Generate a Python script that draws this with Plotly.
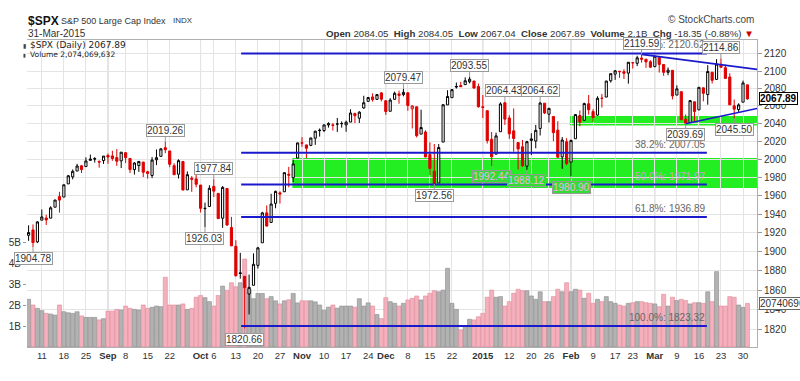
import math
import plotly.graph_objects as go

# ---------------- DATA ----------------
dates = ["2014-08-06","2014-08-07","2014-08-08","2014-08-11","2014-08-12","2014-08-13","2014-08-14","2014-08-15",
"2014-08-18","2014-08-19","2014-08-20","2014-08-21","2014-08-22","2014-08-25","2014-08-26","2014-08-27","2014-08-28","2014-08-29",
"2014-09-02","2014-09-03","2014-09-04","2014-09-05","2014-09-08","2014-09-09","2014-09-10","2014-09-11","2014-09-12",
"2014-09-15","2014-09-16","2014-09-17","2014-09-18","2014-09-19","2014-09-22","2014-09-23","2014-09-24","2014-09-25","2014-09-26",
"2014-09-29","2014-09-30","2014-10-01","2014-10-02","2014-10-03","2014-10-06","2014-10-07","2014-10-08","2014-10-09","2014-10-10",
"2014-10-13","2014-10-14","2014-10-15","2014-10-16","2014-10-17","2014-10-20","2014-10-21","2014-10-22","2014-10-23","2014-10-24",
"2014-10-27","2014-10-28","2014-10-29","2014-10-30","2014-10-31","2014-11-03","2014-11-04","2014-11-05","2014-11-06","2014-11-07",
"2014-11-10","2014-11-11","2014-11-12","2014-11-13","2014-11-14","2014-11-17","2014-11-18","2014-11-19","2014-11-20","2014-11-21",
"2014-11-24","2014-11-25","2014-11-26","2014-11-28","2014-12-01","2014-12-02","2014-12-03","2014-12-04","2014-12-05",
"2014-12-08","2014-12-09","2014-12-10","2014-12-11","2014-12-12","2014-12-15","2014-12-16","2014-12-17","2014-12-18","2014-12-19",
"2014-12-22","2014-12-23","2014-12-24","2014-12-26","2014-12-29","2014-12-30","2014-12-31","2015-01-02","2015-01-05","2015-01-06",
"2015-01-07","2015-01-08","2015-01-09","2015-01-12","2015-01-13","2015-01-14","2015-01-15","2015-01-16","2015-01-20","2015-01-21",
"2015-01-22","2015-01-23","2015-01-26","2015-01-27","2015-01-28","2015-01-29","2015-01-30","2015-02-02","2015-02-03","2015-02-04",
"2015-02-05","2015-02-06","2015-02-09","2015-02-10","2015-02-11","2015-02-12","2015-02-13","2015-02-17","2015-02-18","2015-02-19",
"2015-02-20","2015-02-23","2015-02-24","2015-02-25","2015-02-26","2015-02-27","2015-03-02","2015-03-03","2015-03-04","2015-03-05",
"2015-03-06","2015-03-09","2015-03-10","2015-03-11","2015-03-12","2015-03-13","2015-03-16","2015-03-17","2015-03-18","2015-03-19",
"2015-03-20","2015-03-23","2015-03-24","2015-03-25","2015-03-26","2015-03-27","2015-03-30","2015-03-31"]

opens = [1917.29,1923.03,1910.35,1933.43,1935.73,1935.60,1947.41,1958.87,1958.36,1972.73,1980.46,1986.82,1992.60,1991.74,1998.59,2000.54,1997.42,1998.45,
2004.07,2003.57,2001.67,1998.00,2007.17,2000.73,1988.41,1992.85,1996.74,1986.04,1981.93,1999.30,2003.07,2012.74,2009.08,1992.78,1983.34,1997.32,1966.22,1978.96,1978.21,
1971.44,1945.83,1948.12,1970.01,1962.36,1935.55,1967.68,1925.63,1905.65,1877.11,1874.18,1855.95,1864.91,1885.62,1909.38,1941.29,1931.02,1951.59,1962.97,1964.14,1983.29,1979.49,2001.20,
2018.21,2015.81,2015.29,2023.33,2032.36,2032.01,2038.20,2037.75,2039.21,2039.74,2038.29,2041.48,2051.16,2045.87,2057.46,2065.07,2070.15,2067.36,2074.78,
2065.78,2053.77,2067.45,2073.64,2072.78,2074.84,2056.55,2058.86,2027.92,2030.36,2005.03,1986.71,1973.77,2018.98,2061.04,2069.28,2081.48,2083.25,2084.30,2087.63,2088.49,2082.11,
2058.90,2054.44,2022.15,2005.55,2030.61,2063.45,2046.13,2031.58,2018.40,2013.75,1992.25,2020.76,2020.19,2034.30,2062.98,2050.42,2047.86,2032.34,2002.45,2019.35,
1996.67,2022.71,2048.86,2043.45,2062.28,2053.47,2049.38,2068.55,2069.98,2088.78,2096.47,2099.16,2099.25,2097.65,2109.83,2109.10,2115.30,2113.91,2110.88,
2105.23,2115.76,2107.72,2098.54,2100.91,2072.25,2076.14,2044.69,2041.10,2064.56,2055.35,2080.59,2072.84,2098.69,2090.32,2107.99,2103.94,2093.10,2059.94,2055.78,2064.11,2084.05]

highs = [1927.91,1928.89,1932.38,1944.90,1939.20,1948.41,1955.23,1964.04,1971.99,1982.57,1988.57,1994.76,1993.54,2001.95,2005.04,2002.14,1998.55,2003.38,
2006.12,2009.28,2011.17,2007.71,2007.17,2001.01,1996.66,1997.65,1996.74,1987.18,2002.28,2010.74,2012.34,2019.26,2009.08,1995.41,1999.79,1997.32,1986.37,1981.28,1985.17,
1971.44,1952.32,1971.19,1977.84,1962.36,1970.36,1967.68,1936.98,1912.09,1898.71,1874.18,1876.01,1898.16,1905.03,1942.45,1949.31,1961.95,1965.27,1964.64,1985.05,1991.40,1999.40,2018.19,
2024.46,2015.98,2023.77,2031.61,2034.26,2038.70,2041.28,2040.33,2046.18,2042.22,2043.07,2056.08,2052.14,2053.84,2071.46,2070.17,2074.21,2073.29,2075.76,
2065.78,2068.77,2076.28,2077.34,2079.47,2075.78,2060.60,2058.86,2055.53,2032.25,2018.69,2016.89,2016.75,2061.23,2077.85,2078.76,2086.73,2087.56,2092.70,2093.55,2088.49,2085.58,
2072.36,2054.44,2030.25,2029.61,2064.08,2064.43,2049.30,2056.93,2018.40,2021.35,2020.46,2028.94,2038.29,2064.62,2062.98,2057.62,2047.86,2042.49,2024.64,2023.32,
2021.66,2050.30,2054.74,2063.55,2072.40,2056.16,2070.86,2073.48,2088.53,2097.03,2101.30,2100.23,2102.13,2110.61,2110.05,2117.94,2119.59,2113.91,2112.74,
2117.52,2115.76,2107.72,2104.25,2100.91,2083.49,2076.14,2050.08,2066.41,2064.56,2081.41,2080.59,2106.85,2098.69,2113.92,2114.86,2107.63,2097.43,2067.15,2062.83,2088.97,2084.05]

lows = [1911.45,1904.78,1909.01,1933.43,1928.29,1935.60,1947.41,1941.50,1958.36,1972.73,1977.68,1986.82,1984.76,1991.74,1998.59,1996.20,1990.52,1994.65,
1994.85,1998.14,1992.54,1990.10,1995.60,1984.61,1982.99,1985.93,1980.26,1978.48,1979.06,1993.29,2003.07,2006.59,1991.01,1982.77,1978.63,1965.99,1966.22,1964.04,1968.96,
1941.72,1926.03,1948.12,1958.43,1935.10,1925.25,1927.56,1906.05,1874.14,1871.79,1820.66,1835.02,1864.91,1882.30,1909.38,1926.83,1931.02,1946.27,1951.37,1964.14,1969.04,1974.75,2001.20,
2013.68,2001.01,2014.42,2015.86,2025.07,2030.17,2035.28,2031.95,2030.44,2035.20,2030.58,2041.48,2040.37,2040.49,2056.75,2065.07,2064.75,2066.62,2065.06,
2049.57,2053.77,2066.65,2062.34,2070.81,2054.27,2034.17,2024.26,2027.92,2002.33,1982.26,1972.56,1973.77,2018.98,2061.03,2069.28,2079.77,2081.86,2084.30,2085.75,2079.53,2057.94,
2046.04,2017.34,1992.44,2005.55,2030.61,2038.33,2022.58,2008.25,1988.44,1991.47,1988.12,2004.49,2012.04,2026.38,2050.54,2040.97,2019.91,2001.49,1989.18,1993.38,
1980.90,2022.71,2036.72,2043.45,2049.97,2041.88,2048.62,2057.99,2069.98,2086.70,2089.80,2092.15,2090.79,2085.44,2103.00,2105.87,2109.89,2103.76,2103.75,
2104.50,2098.26,2094.49,2095.22,2067.27,2072.21,2044.16,2039.69,2041.10,2041.17,2055.35,2065.08,2061.23,2085.56,2090.32,2104.42,2091.50,2061.05,2045.50,2052.96,2064.11,2067.04]

closes = [1920.24,1909.57,1931.59,1936.92,1933.75,1946.72,1955.18,1955.06,1971.74,1981.60,1986.51,1992.37,1988.40,1997.92,2000.02,2000.12,1996.74,2003.37,
2002.28,2000.72,1997.65,2007.71,2001.54,1988.44,1995.69,1997.45,1985.54,1984.13,1998.98,2001.57,2011.36,2010.40,1994.29,1982.77,1998.30,1965.99,1982.85,1977.80,1972.29,
1946.16,1946.17,1967.90,1964.82,1935.10,1968.89,1928.21,1906.13,1874.74,1877.70,1862.49,1862.76,1886.76,1904.01,1941.28,1927.11,1950.82,1964.58,1961.63,1985.05,1982.30,1994.65,2018.05,
2017.81,2012.10,2023.57,2031.21,2031.92,2038.26,2039.68,2038.25,2039.33,2039.82,2041.32,2051.80,2048.72,2052.75,2063.50,2069.41,2067.03,2072.83,2067.56,
2053.44,2066.55,2074.33,2071.92,2075.37,2060.31,2059.82,2026.14,2035.33,2002.33,1989.63,1972.74,2012.89,2061.23,2070.65,2078.54,2082.17,2081.88,2088.77,2090.57,2080.35,2058.90,
2058.20,2020.58,2002.61,2025.90,2062.14,2044.81,2028.26,2023.03,2011.27,1992.67,2019.42,2022.55,2032.12,2063.15,2051.82,2057.09,2029.55,2002.16,2021.25,1994.99,
2020.85,2050.03,2041.51,2062.52,2055.47,2046.74,2068.59,2068.53,2088.48,2096.99,2100.34,2099.68,2097.45,2110.30,2109.66,2115.48,2113.86,2110.74,2104.50,
2117.39,2107.78,2098.53,2101.04,2071.26,2079.43,2044.16,2040.24,2065.95,2053.40,2081.19,2074.28,2099.50,2089.27,2108.10,2104.42,2091.50,2061.05,2056.15,2061.02,2086.24,2067.89]

prior_close = 1920.21

volume_b = [2.27,2.0,1.84,1.73,1.60,1.57,1.52,2.0,1.68,1.63,1.60,1.68,1.48,1.41,1.41,1.41,1.29,1.35,
1.71,1.71,1.79,1.76,1.95,1.84,1.79,1.76,2.0,1.84,1.89,1.95,1.92,3.32,2.0,2.0,2.0,2.05,1.79,1.84,2.37,
2.45,2.35,2.16,1.95,2.45,2.9,2.7,3.06,2.87,3.06,4.19,2.75,2.3,2.55,2.55,2.3,2.4,2.2,2.05,2.2,2.25,2.55,2.1,
2.2,2.2,2.2,2.15,2.0,1.75,1.9,2.0,1.85,1.95,1.95,1.95,1.9,2.3,1.95,2.1,1.95,1.55,1.35,
2.35,2.16,2.08,1.95,2.08,2.24,2.32,2.43,2.24,2.43,2.56,2.68,2.63,2.71,3.75,2.08,1.79,0.81,1.0,1.32,1.29,1.44,
1.60,2.37,2.71,2.37,2.40,1.95,2.16,2.56,2.75,2.68,2.68,2.43,2.27,2.63,2.16,2.16,2.40,2.75,2.63,3.06,
2.63,2.75,2.71,2.32,2.56,2.08,2.27,2.16,2.40,2.16,2.08,2.0,1.95,2.08,2.11,2.16,2.16,2.11,2.08,
2.05,1.92,2.51,1.95,2.37,2.21,2.27,2.21,2.05,2.11,2.11,2.08,2.63,2.16,3.59,1.95,1.95,2.40,2.37,2.0,1.89,2.074069632]

tick_index = [3,8,13,18,22,27,32,39,42,47,52,57,62,67,72,77,81,86,91,96,103,109,114,118,123,128,133,137,142,147,152,157,162]
tick_text = ["11","18","25","Sep","8","15","22","Oct","6","13","20","27","Nov","10","17","24","Dec","8","15","22",
             "2015","12","20","26","Feb","9","17","23","Mar","9","16","23","30"]
month_labels = ["Sep","Oct","Nov","Dec","2015","Feb","Mar"]

price_ticks = list(range(1820, 2121, 20))
volume_ticks = [1, 2, 3, 4, 5]

fib_labels = ["0.0%", "38.2%", "50.0%", "61.8%", "100.0%"]
fib_values = [2120.62, 2007.05, 1971.97, 1936.89, 1823.32]

# price labels: (index, value, above?)
label_index = [1, 31, 42, 40, 49, 85, 92, 100, 108, 116, 105, 113, 123, 139, 149, 157, 160]
label_value = [1904.78, 2019.26, 1977.84, 1926.03, 1820.66, 2079.47, 1972.56, 2093.55, 2064.43, 2064.62,
               1992.44, 1988.12, 1980.90, 2119.59, 2039.69, 2114.86, 2045.50]
label_above = [False, True, True, False, False, True, False, True, True, True,
               False, False, False, True, False, True, False]
label_in_zone = [False]*10 + [True, True, True] + [False]*4

# support zones (start index, top, bottom)
zone_start = [59.8, 122.8]
zone_top = [2001.3, 2048.5]
zone_bottom = [1968.3, 2037.5]

# triangle trendlines: start index / price taken from the data, end price estimated
upper_start_idx, upper_end_price = 139, 2102.0
lower_start_idx, lower_end_price = 149, 2057.0

# ---------------- FIGURE ----------------
n = len(closes)
idx = list(range(n))
X0, X1 = -0.36, 165.17
FONT = "Liberation Sans, Arial, sans-serif"

prev = [prior_close] + closes[:-1]
cats = {"up_hollow": [], "down_filled": [], "down_hollow": [], "up_filled": []}
for i in idx:
    up = closes[i] >= prev[i]
    hollow = closes[i] > opens[i]
    key = ("up_" if up else "down_") + ("hollow" if hollow else "filled")
    cats[key].append(i)

style = {
    "up_hollow": ("#000000", "#ffffff"),
    "down_filled": ("#e00000", "#e00000"),
    "down_hollow": ("#e00000", "#ffffff"),
    "up_filled": ("#000000", "#000000"),
}

fig = go.Figure()

# volume (base axis, left)
vcol = ["rgba(178,178,178,1)" if closes[i] >= prev[i] else "rgba(244,176,188,1)" for i in idx]
vline = ["#8c8c8c" if closes[i] >= prev[i] else "#e08898" for i in idx]
fig.add_trace(go.Bar(x=idx, y=[v * 1e9 for v in volume_b], marker=dict(color=vcol, line=dict(color=vline, width=0.6)),
                     yaxis="y", xaxis="x", hoverinfo="skip", showlegend=False))

for key, ids in cats.items():
    lc, fc = style[key]
    fig.add_trace(go.Candlestick(
        x=ids, open=[opens[i] for i in ids], high=[highs[i] for i in ids],
        low=[lows[i] for i in ids], close=[closes[i] for i in ids],
        increasing=dict(line=dict(color=lc, width=1), fillcolor=fc),
        decreasing=dict(line=dict(color=lc, width=1), fillcolor=fc),
        whiskerwidth=0, yaxis="y2", xaxis="x", showlegend=False, hoverinfo="skip"))

shapes = []
# month-start darker grid lines
for t, lab in zip(tick_index, tick_text):
    if lab in month_labels:
        shapes.append(dict(type="line", xref="x", yref="paper", x0=t, x1=t, y0=0, y1=1,
                           line=dict(color="#c4c4c4", width=1), layer="below"))
# green zones
for s, t, b in zip(zone_start, zone_top, zone_bottom):
    shapes.append(dict(type="rect", xref="x", yref="y2", x0=s, x1=X1, y0=b, y1=t,
                       fillcolor="#22ee22", line=dict(width=0), layer="below"))
# fib lines
for v in fib_values:
    shapes.append(dict(type="line", xref="x", yref="y2", x0=48.2, x1=153.8, y0=v, y1=v,
                       line=dict(color="#1a1acc", width=2), layer="above"))
# triangle lines
shapes.append(dict(type="line", xref="x", yref="y2", x0=upper_start_idx, x1=X1,
                   y0=highs[upper_start_idx], y1=upper_end_price, line=dict(color="#1a1acc", width=1.6), layer="above"))
shapes.append(dict(type="line", xref="x", yref="y2", x0=lower_start_idx, x1=X1,
                   y0=lows[lower_start_idx], y1=lower_end_price, line=dict(color="#1a1acc", width=1.6), layer="above"))

ann = []
# fib labels
for lab, v in zip(fib_labels, fib_values):
    ann.append(dict(x=153.8, y=math.log10(v), xref="x", yref="y2", text=f"{lab}: {v:.2f}",
                    showarrow=False, xanchor="right", yanchor="bottom", yshift=1,
                    font=dict(family=FONT, size=10, color="#d0a0d0" if lab == "50.0%" else "#666666")))
# price labels
for i, v, up, z in zip(label_index, label_value, label_above, label_in_zone):
    ann.append(dict(x=i, y=math.log10(v), xref="x", yref="y2", text=f"{v:.2f}",
                    showarrow=True, ax=0, ay=-11 if up else 11, arrowhead=0, arrowwidth=1,
                    arrowcolor="#999999", standoff=0,
                    bgcolor="#33dd33" if z else "#ffffff", bordercolor="#999999", borderwidth=1, borderpad=0,
                    font=dict(family=FONT, size=10, color="#f0b0f0" if z else "#333333")))
# current price box
ann.append(dict(x=1, y=math.log10(closes[-1]), xref="paper", yref="y2", text=f"<b>{closes[-1]:.2f}</b>",
                showarrow=False, xanchor="left", xshift=2, bgcolor="#ffffff", bordercolor="#000000",
                borderwidth=1, borderpad=0, font=dict(family=FONT, size=10, color="#000000")))
# current volume box
ann.append(dict(x=1, y=volume_b[-1] * 1e9, xref="paper", yref="y", text="2074069632",
                showarrow=False, xanchor="left", xshift=2, bgcolor="#ffffff", bordercolor="#666666",
                borderwidth=1, borderpad=0, font=dict(family=FONT, size=10, color="#333333")))


def py(p):
    return (347 - p) / 307.0


def px(p):
    return (p - 27) / 730.0


ann += [
    dict(x=px(26), y=py(21), xref="paper", yref="paper", showarrow=False, xanchor="left", yanchor="middle",
         text="<b>$SPX</b>", font=dict(family=FONT, size=12, color="#111")),
    dict(x=px(59), y=py(21), xref="paper", yref="paper", showarrow=False, xanchor="left", yanchor="middle",
         text="S&P 500 Large Cap Index", font=dict(family=FONT, size=9, color="#333")),
    dict(x=px(171), y=py(21), xref="paper", yref="paper", showarrow=False, xanchor="left", yanchor="middle",
         text="INDX", font=dict(family=FONT, size=8, color="#333")),
    dict(x=px(26), y=py(33), xref="paper", yref="paper", showarrow=False, xanchor="left", yanchor="middle",
         text="31-Mar-2015", font=dict(family=FONT, size=10, color="#333")),
    dict(x=px(756), y=py(20), xref="paper", yref="paper", showarrow=False, xanchor="right", yanchor="middle",
         text="© StockCharts.com", font=dict(family=FONT, size=10, color="#444")),
    dict(x=px(756), y=py(33), xref="paper", yref="paper", showarrow=False, xanchor="right", yanchor="middle",
         text="<b>Open</b> 2084.05  <b>High</b> 2084.05  <b>Low</b> 2067.04  <b>Close</b> 2067.89  "
              "<b>Volume</b> 2.1B  <b>Chg</b> -18.35 (-0.88%) <span style='color:#cc0000'>▼</span>",
         font=dict(family=FONT, size=9.7, color="#333")),
    dict(x=px(28), y=py(45), xref="paper", yref="paper", showarrow=False, xanchor="left", yanchor="middle",
         text="$SPX (Daily) 2067.89", font=dict(family="DejaVu Sans", size=9, color="#222")),
    dict(x=px(28), y=py(54.5), xref="paper", yref="paper", showarrow=False, xanchor="left", yanchor="middle",
         text="Volume 2,074,069,632", font=dict(family="DejaVu Sans", size=7.5, color="#222")),
    dict(x=px(21), y=py(45), xref="paper", yref="paper", showarrow=False, xanchor="left", yanchor="middle",
         text="▮", font=dict(family="DejaVu Sans", size=6, color="#444")),
    dict(x=px(21), y=py(54.5), xref="paper", yref="paper", showarrow=False, xanchor="left", yanchor="middle",
         text="▮", font=dict(family="DejaVu Sans", size=5, color="#444")),
]

ticktext_fmt = [f"<b>{t}</b>" if t in month_labels else t for t in tick_text]

fig.update_layout(
    width=800, height=381,
    margin=dict(l=27, r=43, t=40, b=34, pad=0),
    paper_bgcolor="#ffffff", plot_bgcolor="#ffffff",
    showlegend=False, bargap=0.08,
    font=dict(family=FONT, size=10, color="#333"),
    shapes=shapes, annotations=ann,
    xaxis=dict(range=[X0, X1], tickmode="array", tickvals=tick_index, ticktext=ticktext_fmt,
               showgrid=True, gridcolor="#e4e4e4", gridwidth=1, zeroline=False,
               showline=True, linecolor="#b0b0b0", mirror=True, ticks="", ticklen=0,
               tickfont=dict(family=FONT, size=9.5, color="#333"), automargin=False,
               rangeslider=dict(visible=False), fixedrange=True),
    yaxis=dict(range=[0, 14.62e9], side="left", tickmode="array", tickvals=[v * 1e9 for v in volume_ticks],
               ticktext=[f"{v}B" for v in volume_ticks], showgrid=False, zeroline=False,
               ticks="outside", ticklen=3, tickcolor="#999", showline=False, automargin=False,
               tickfont=dict(family=FONT, size=10, color="#333")),
    yaxis2=dict(type="log", range=[math.log10(1802.2), math.log10(2136.5)], side="right", overlaying="y",
                tickmode="array", tickvals=price_ticks, ticktext=[str(t) for t in price_ticks],
                showgrid=True, gridcolor="#e4e4e4", zeroline=False, ticks="outside", ticklen=4,
                tickcolor="#999", showline=True, linecolor="#b0b0b0", automargin=False,
                tickfont=dict(family=FONT, size=10, color="#333")),
)

fig.write_html("out.html", config={"displayModeBar": False},
               post_script="document.body.style.margin='0';document.body.style.overflow='hidden';")
